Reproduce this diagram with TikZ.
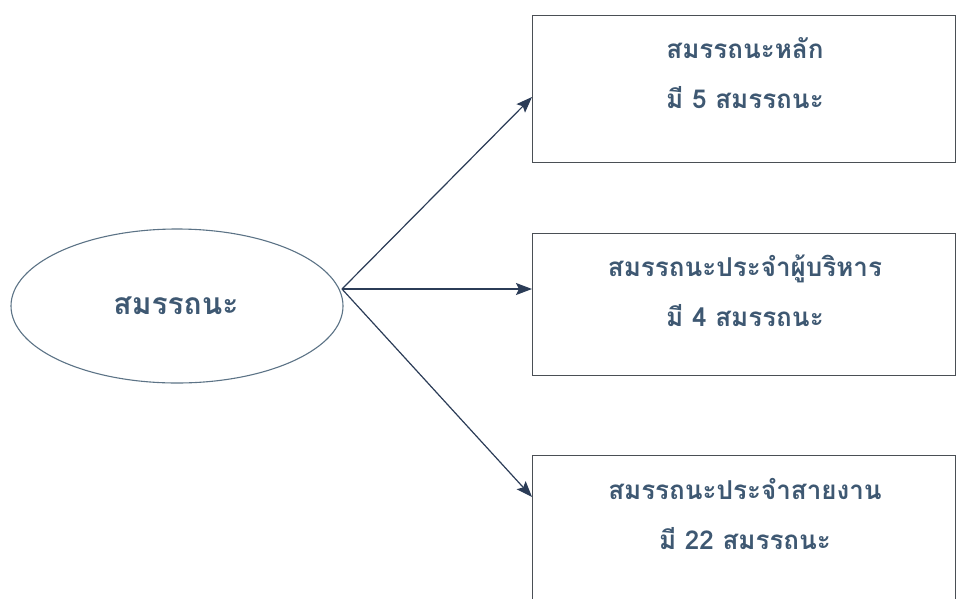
\documentclass[tikz,border=0pt]{standalone}
\usepackage{fontspec}
\newfontfamily\thaifont[Script=Thai]{Loma}
\usetikzlibrary{shapes.geometric,arrows.meta}
\definecolor{txtc}{HTML}{3E5872}
\definecolor{arrc}{HTML}{2B3C57}
\definecolor{ellc}{HTML}{5C7386}
\definecolor{boxc}{HTML}{4A4F55}
\tikzset{
  ell/.style={ellipse, draw=ellc, line width=1.1pt, minimum width=332pt, minimum height=154pt, inner sep=0pt},
  boxn/.style={draw=boxc, line width=0.9pt, anchor=north west, inner sep=0pt},
  lbl/.style={text=txtc, font=\thaifont\bfseries\fontsize{26}{50}\selectfont, align=center},
  arr/.style={draw=arrc, line width=1.2pt, -{Stealth[length=16pt,width=12pt,inset=3pt]}}
}
\begin{document}
\begin{tikzpicture}[x=1pt,y=-1pt]
\useasboundingbox (0,0) rectangle (958,598);
\clip (0,0) rectangle (958,598);
\node[ell] (ell) at (177,306) {};
\node[lbl, font=\thaifont\bfseries\fontsize{30}{36}\selectfont] (et) at (176,306) {สมรรถนะ};
\node[boxn, minimum width=423pt, minimum height=147pt] (b1) at (532,15) {};
\node[boxn, minimum width=423pt, minimum height=142pt] (b2) at (532,233) {};
\node[boxn, minimum width=423pt, minimum height=150pt] (b3) at (532,455) {};
\node[lbl] (t1) at (745,73) {สมรรถนะหลัก\\มี 5 สมรรถนะ};
\node[lbl] (t2) at (745,291) {สมรรถนะประจำผู้บริหาร\\มี 4 สมรรถนะ};
\node[lbl] (t3) at (745,514) {สมรรถนะประจำสายงาน\\มี 22 สมรรถนะ};
\coordinate (src) at (342,289);
\coordinate (e1) at (b1.west |- 0,97);
\coordinate (e2) at (b2.west |- 0,289);
\coordinate (e3) at (b3.west |- 0,497);
\draw[arr] (src) -- (e1);
\draw[arr] (src) -- (e2);
\draw[arr] (src) -- (e3);
\end{tikzpicture}
\end{document}
